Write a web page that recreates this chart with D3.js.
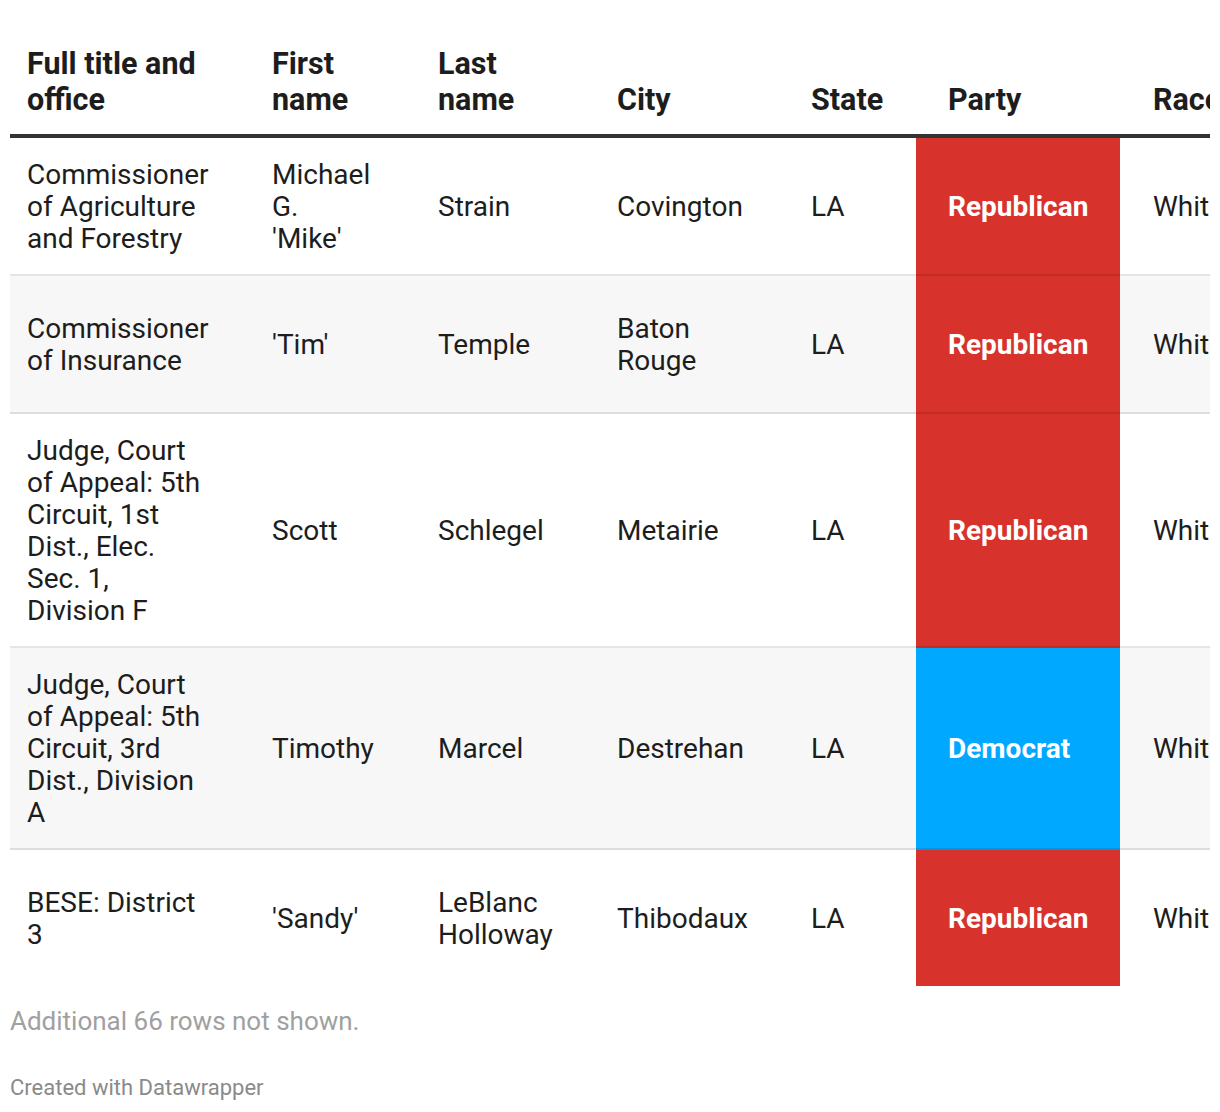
<!DOCTYPE html>
<html>
<head>
<meta charset="utf-8">
<script src="https://cdn.jsdelivr.net/npm/d3@7"></script>
<style>
  html, body { margin: 0; padding: 0; background: #fff; }
  svg { display: block; font-family: Roboto, "Noto Sans", sans-serif; }
</style>
</head>
<body>
<svg id="chart" width="1220" height="1112"></svg>
<script>
// ---- data ----
const headers = ["Full title and\noffice", "First\nname", "Last\nname", "City", "State", "Party", "Race"];
const offices = [
  "Commissioner\nof Agriculture\nand Forestry",
  "Commissioner\nof Insurance",
  "Judge, Court\nof Appeal: 5th\nCircuit, 1st\nDist., Elec.\nSec. 1,\nDivision F",
  "Judge, Court\nof Appeal: 5th\nCircuit, 3rd\nDist., Division\nA",
  "BESE: District\n3"
];
const firstNames = ["Michael\nG.\n'Mike'", "'Tim'", "Scott", "Timothy", "'Sandy'"];
const lastNames = ["Strain", "Temple", "Schlegel", "Marcel", "LeBlanc\nHolloway"];
const cities = ["Covington", "Baton\nRouge", "Metairie", "Destrehan", "Thibodaux"];
const states = ["LA", "LA", "LA", "LA", "LA"];
const parties = ["Republican", "Republican", "Republican", "Democrat", "Republican"];
const races = ["White", "White", "White", "White", "White"];
const note = "Additional 66 rows not shown.";
const credit = "Created with Datawrapper";

// ---- layout ----
const W = 1220, left = 10, right = 1210;
const colX = [27, 272, 438, 617, 811, 948, 1153];
const partyBox = [916, 1120];
const lineH = 32, headLineH = 36, padV = 20, borderW = 2;
const headerBottom = 134, headerRule = 4;

const partyColor = d3.scaleOrdinal()
  .domain(["Republican", "Democrat"])
  .range(["#d7322b", "#00a8ff"]);

const rows = offices.map((o, i) => ({
  cells: [o, firstNames[i], lastNames[i], cities[i], states[i], parties[i], races[i]],
  party: parties[i]
}));

// row geometry
let y = headerBottom + headerRule;
rows.forEach((r, i) => {
  const n = d3.max(r.cells, c => c.split("\n").length);
  r.top = y;
  r.h = Math.max(n, 3) * lineH + 2 * padV;
  r.hasBorder = i < rows.length - 1;
  y += r.h + (r.hasBorder ? borderW : 0);
});

const svg = d3.select("#chart");
svg.append("defs").append("clipPath").attr("id", "clip")
  .append("rect").attr("x", 0).attr("y", 0).attr("width", right).attr("height", 1112);

const g = svg.append("g").attr("clip-path", "url(#clip)");

// header
const hg = g.append("g").attr("class", "header");
headers.forEach((h, j) => {
  const lines = h.split("\n");
  const t = hg.append("text")
    .attr("x", colX[j])
    .attr("font-size", 30.5).attr("font-weight", 700).attr("fill", "#1d1d1d");
  lines.forEach((ln, k) => {
    t.append("tspan").attr("x", colX[j])
      .attr("y", 110 - (lines.length - 1 - k) * headLineH)
      .text(ln);
  });
});
g.append("rect").attr("x", left).attr("y", headerBottom)
  .attr("width", right - left).attr("height", headerRule).attr("fill", "#333");

// row backgrounds
const rg = g.selectAll("g.row").data(rows).join("g").attr("class", "row");
rg.append("rect")
  .attr("x", left).attr("y", d => d.top)
  .attr("width", right - left).attr("height", d => d.h + (d.hasBorder ? borderW : 0))
  .attr("fill", (d, i) => i % 2 === 1 ? "#f7f7f7" : "#ffffff");

// party cells
rg.append("rect")
  .attr("x", partyBox[0]).attr("y", d => d.top)
  .attr("width", partyBox[1] - partyBox[0])
  .attr("height", d => d.h + (d.hasBorder ? borderW : 0))
  .attr("fill", d => partyColor(d.party));

// borders
rg.filter(d => d.hasBorder).append("rect")
  .attr("x", left).attr("y", d => d.top + d.h)
  .attr("width", right - left).attr("height", borderW)
  .attr("fill", "rgba(0,0,0,0.1)");

// cell text
rg.each(function(d) {
  const row = d3.select(this);
  d.cells.forEach((c, j) => {
    const lines = c.split("\n");
    const start = d.top + (d.h - lines.length * lineH) / 2;
    const isParty = j === 5;
    const t = row.append("text")
      .attr("font-size", 28)
      .attr("font-weight", isParty ? 700 : 400)
      .attr("fill", isParty ? "#ffffff" : "#1d1d1d");
    lines.forEach((ln, k) => {
      t.append("tspan").attr("x", colX[j])
        .attr("y", start + k * lineH + 25.6)
        .text(ln);
    });
  });
});

// footer
svg.append("text").attr("x", 10).attr("y", 1030)
  .attr("font-size", 26).attr("fill", "#a0a0a0").text(note);
svg.append("text").attr("x", 10).attr("y", 1095)
  .attr("font-size", 22).attr("fill", "#8a8a8a").text(credit);
</script>
</body>
</html>
